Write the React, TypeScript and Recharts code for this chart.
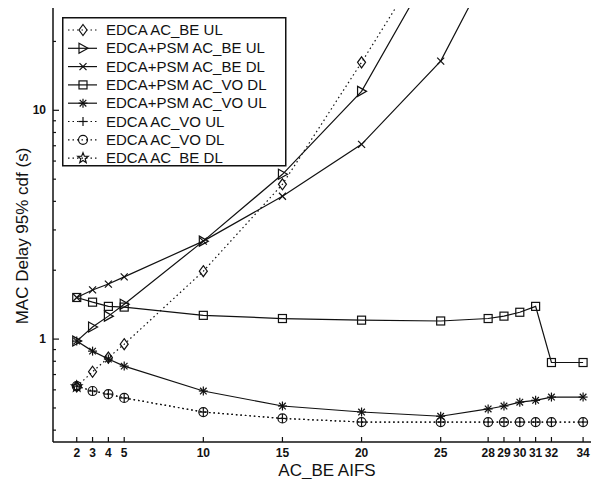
import React from 'react';
import { LineChart, Line, XAxis, YAxis, Legend } from 'recharts';

// AC_BE AIFS values on the x axis
const aifsTicks = [2, 3, 4, 5, 10, 15, 20, 25, 28, 29, 30, 31, 32, 34];
const yMajorTicks = [1, 10];
const yMinorTicks = [0.4, 0.5, 0.6, 0.7, 0.8, 0.9, 2, 3, 4, 5, 6, 7, 8, 9, 20];

// BE series leave the plot at the top, so they stop early
const beAifs = [2, 3, 4, 5, 10, 15, 20, 25];
const beDlAifs = [2, 3, 4, 5, 10, 15, 20, 25, 28];

// 95% cdf MAC delay (s)
const edcaBeUl = [0.62, 0.72, 0.83, 0.95, 1.98, 4.75, 16.2, 58];
const psmBeUl = [0.98, 1.13, 1.26, 1.42, 2.68, 5.25, 12.1, 49];
const psmBeDl = [1.52, 1.64, 1.74, 1.87, 2.68, 4.21, 7.1, 16.4, 41];
const psmVoDl = [1.52, 1.45, 1.39, 1.38, 1.27, 1.23, 1.21, 1.2, 1.23, 1.26, 1.31, 1.39, 0.79, 0.79];
const psmVoUl = [0.98, 0.886, 0.818, 0.762, 0.593, 0.51, 0.48, 0.46, 0.495, 0.51, 0.53, 0.54, 0.558, 0.558];
const edcaVoUl = [0.623, 0.593, 0.575, 0.553, 0.48, 0.45, 0.434, 0.434, 0.434, 0.434, 0.434, 0.434, 0.434, 0.434];
const edcaVoDl = [0.623, 0.593, 0.575, 0.553, 0.48, 0.45, 0.434, 0.434, 0.434, 0.434, 0.434, 0.434, 0.434, 0.434];
const edcaBeDlAifs = [2];
const edcaBeDl = [0.62];

type Shape = 'diamond' | 'triangle' | 'cross' | 'square' | 'asterisk' | 'plus' | 'circle' | 'pentagram';

interface Series {
  name: string;
  shape: Shape;
  dotted: boolean;
  points: { x: number; y: number }[];
}

const zip = (xs: number[], ys: number[]) => xs.map((x, i) => ({ x, y: ys[i] }));

const series: Series[] = [
  { name: 'EDCA AC_BE UL', shape: 'diamond', dotted: true, points: zip(beAifs, edcaBeUl) },
  { name: 'EDCA+PSM AC_BE UL', shape: 'triangle', dotted: false, points: zip(beAifs, psmBeUl) },
  { name: 'EDCA+PSM AC_BE DL', shape: 'cross', dotted: false, points: zip(beDlAifs, psmBeDl) },
  { name: 'EDCA+PSM AC_VO DL', shape: 'square', dotted: false, points: zip(aifsTicks, psmVoDl) },
  { name: 'EDCA+PSM AC_VO UL', shape: 'asterisk', dotted: false, points: zip(aifsTicks, psmVoUl) },
  { name: 'EDCA AC_VO UL', shape: 'plus', dotted: true, points: zip(aifsTicks, edcaVoUl) },
  { name: 'EDCA AC_VO DL', shape: 'circle', dotted: true, points: zip(aifsTicks, edcaVoDl) },
  { name: 'EDCA AC_BE DL', shape: 'pentagram', dotted: true, points: zip(edcaBeDlAifs, edcaBeDl) },
];

const INK = '#111';
const FONT = '"Liberation Sans", Arial, sans-serif';

function marker(shape: Shape, cx: number, cy: number, key?: string) {
  const p = { stroke: INK, strokeWidth: 1.2, fill: 'none' };
  switch (shape) {
    case 'diamond':
      return <polygon key={key} {...p} points={`${cx},${cy - 5.5} ${cx + 4},${cy} ${cx},${cy + 5.5} ${cx - 4},${cy}`} />;
    case 'triangle':
      return <polygon key={key} {...p} points={`${cx - 4},${cy - 5} ${cx + 5},${cy} ${cx - 4},${cy + 5}`} />;
    case 'cross':
      return (
        <g key={key} {...p}>
          <line x1={cx - 3.5} y1={cy - 3.5} x2={cx + 3.5} y2={cy + 3.5} />
          <line x1={cx - 3.5} y1={cy + 3.5} x2={cx + 3.5} y2={cy - 3.5} />
        </g>
      );
    case 'square':
      return <rect key={key} {...p} x={cx - 4} y={cy - 4} width={8} height={8} />;
    case 'asterisk':
      return (
        <g key={key} {...p}>
          <line x1={cx - 4.5} y1={cy} x2={cx + 4.5} y2={cy} />
          <line x1={cx} y1={cy - 4.5} x2={cx} y2={cy + 4.5} />
          <line x1={cx - 3.3} y1={cy - 3.3} x2={cx + 3.3} y2={cy + 3.3} />
          <line x1={cx - 3.3} y1={cy + 3.3} x2={cx + 3.3} y2={cy - 3.3} />
        </g>
      );
    case 'plus':
      return (
        <g key={key} {...p}>
          <line x1={cx - 4.5} y1={cy} x2={cx + 4.5} y2={cy} />
          <line x1={cx} y1={cy - 4.5} x2={cx} y2={cy + 4.5} />
        </g>
      );
    case 'circle':
      return <circle key={key} {...p} cx={cx} cy={cy} r={4.5} />;
    case 'pentagram': {
      const pts: string[] = [];
      for (let i = 0; i < 10; i++) {
        const r = i % 2 === 0 ? 5.5 : 2.3;
        const a = -Math.PI / 2 + (i * Math.PI) / 5;
        pts.push(`${cx + r * Math.cos(a)},${cy + r * Math.sin(a)}`);
      }
      return <polygon key={key} {...p} points={pts.join(' ')} />;
    }
  }
}

const BottomTick = (props: any) => {
  const { x, y, payload } = props;
  return (
    <g>
      <line x1={x} x2={x} y1={y} y2={y - 5} stroke={INK} strokeWidth={1.2} />
      <text x={x} y={y + 15} textAnchor="middle" fontSize={12} fontFamily={FONT} fontWeight="bold" fill={INK}>
        {payload.value}
      </text>
    </g>
  );
};

const TopTick = (props: any) => {
  const { x, y } = props;
  return <line x1={x} x2={x} y1={y} y2={y + 5} stroke={INK} strokeWidth={1.2} />;
};

const LeftTick = (props: any) => {
  const { x, y, payload } = props;
  const major = yMajorTicks.includes(payload.value);
  return (
    <g>
      <line x1={x} x2={x + (major ? 6 : 3)} y1={y} y2={y} stroke={INK} strokeWidth={1.2} />
      {major && (
        <text x={x - 7} y={y + 4} textAnchor="end" fontSize={12} fontFamily={FONT} fontWeight="bold" fill={INK}>
          {payload.value}
        </text>
      )}
    </g>
  );
};

const LegendBox = () => (
  <svg width={225} height={150} style={{ display: 'block' }}>
    <rect x={0.75} y={0.75} width={223} height={148} fill="#fff" stroke={INK} strokeWidth={1.5} />
    {series.map((s, i) => {
      const cy = 13 + i * 18.3;
      return (
        <g key={s.name}>
          <line x1={6} x2={35} y1={cy} y2={cy} stroke={INK} strokeWidth={1.2} strokeDasharray={s.dotted ? '1.5 3' : undefined} />
          {marker(s.shape, 21, cy)}
          <text x={44} y={cy + 5} fontSize={15} fontFamily={FONT} fill={INK}>
            {s.name}
          </text>
        </g>
      );
    })}
  </svg>
);

export default function App() {
  return (
    <div style={{ position: 'absolute', left: 0, top: 0, width: 591, height: 479, background: '#fff' }}>
      <LineChart width={591} height={479} margin={{ top: 8, right: 0, bottom: 0, left: 0 }}>
        <XAxis
          xAxisId="b"
          type="number"
          dataKey="x"
          domain={[0.5, 34.5]}
          ticks={aifsTicks}
          interval={0}
          allowDataOverflow
          height={37}
          tickSize={0}
          tickMargin={0}
          tickLine={false}
          tick={BottomTick}
          axisLine={{ stroke: INK, strokeWidth: 1.5 }}
        />
        <XAxis
          xAxisId="t"
          orientation="top"
          type="number"
          dataKey="x"
          domain={[0.5, 34.5]}
          ticks={aifsTicks}
          interval={0}
          allowDataOverflow
          height={0}
          tickSize={0}
          tickMargin={0}
          tickLine={false}
          tick={TopTick}
          axisLine={{ stroke: INK, strokeWidth: 1.5 }}
        />
        <YAxis
          yAxisId="l"
          type="number"
          scale="log"
          domain={[0.355, 28]}
          ticks={[...yMinorTicks, ...yMajorTicks].sort((a, b) => a - b)}
          interval={0}
          allowDataOverflow
          width={53}
          tickSize={0}
          tickMargin={0}
          tickLine={false}
          tick={LeftTick}
          axisLine={{ stroke: INK, strokeWidth: 1.5 }}
        />
        {series.map((s) => (
          <Line
            key={s.name}
            xAxisId="b"
            yAxisId="l"
            data={s.points}
            dataKey="y"
            name={s.name}
            stroke={INK}
            strokeWidth={1.2}
            strokeDasharray={s.dotted ? '1.5 3' : undefined}
            isAnimationActive={false}
            dot={(d: any) => marker(s.shape, d.cx, d.cy, `${s.name}-${d.index}`)}
            activeDot={false}
          />
        ))}
        <Legend
          layout="vertical"
          align="center"
          verticalAlign="middle"
          wrapperStyle={{ position: 'absolute', left: 62, top: 17, width: 225, height: 150 }}
          content={() => <LegendBox />}
        />
        <text x={327} y={476} textAnchor="middle" fontSize={17} fontFamily={FONT} fill={INK}>
          AC_BE AIFS
        </text>
        <text
          transform="translate(22,236) rotate(-90)"
          textAnchor="middle"
          dominantBaseline="central"
          fontSize={17}
          fontFamily={FONT}
          fill={INK}
        >
          MAC Delay 95% cdf (s)
        </text>
      </LineChart>
    </div>
  );
}
